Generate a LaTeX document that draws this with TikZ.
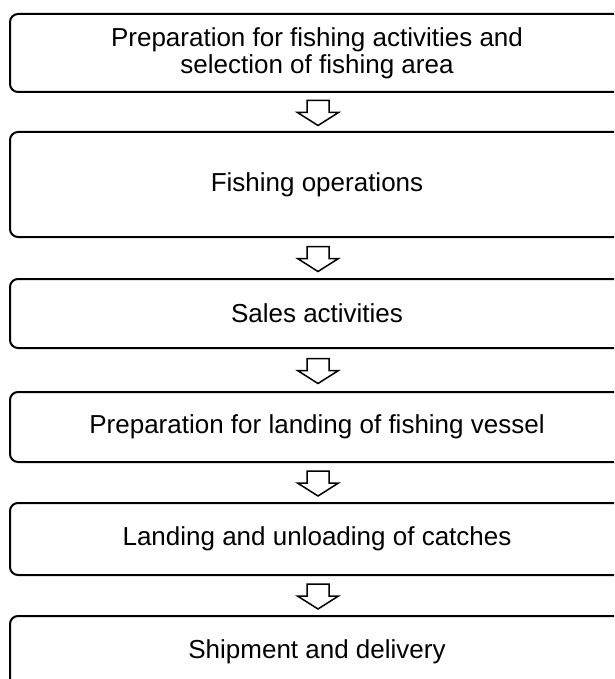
\documentclass[tikz,border=0pt]{standalone}
\usepackage{fontspec}
\setmainfont{Liberation Sans}
\usetikzlibrary{calc}
\begin{document}
\begin{tikzpicture}[x=1pt,y=-1pt,
  stepbox/.style={draw, line width=2pt, rounded corners=8pt, minimum width=614pt, inner sep=0pt, align=center, font=\fontsize{26}{27}\selectfont},
  blockarrow/.pic={\draw[line width=1.5pt, line join=miter] (-11,-12.5) -- (11,-12.5) -- (11,-0.5) -- (20.5,-0.5) -- (0,12.5) -- (-20.5,-0.5) -- (-11,-0.5) -- cycle;}
]
\useasboundingbox (0,0) rectangle (614,679);
\clip (0,0) rectangle (614,679);
\node[stepbox, minimum height=78pt] (b1) at (317,53) {Preparation for fishing activities and\\selection of fishing area};
\node[stepbox, minimum height=105pt] (b2) at (317,184.5) {Fishing operations};
\node[stepbox, minimum height=69pt] (b3) at (317,313.5) {Sales activities};
\node[stepbox, minimum height=70pt] (b4) at (317,427) {Preparation for landing of fishing vessel};
\node[stepbox, minimum height=72pt] (b5) at (317,539) {Landing and unloading of catches};
\node[stepbox, minimum height=72pt] (b6) at (317,652) {Shipment and delivery};
\pic at ($(b1.south)!0.5!(b2.north)+(1,1)$) {blockarrow};
\pic at ($(b2.south)!0.5!(b3.north)+(1,1)$) {blockarrow};
\pic at ($(b3.south)!0.5!(b4.north)+(1,1)$) {blockarrow};
\pic at ($(b4.south)!0.5!(b5.north)+(1,1)$) {blockarrow};
\pic at ($(b5.south)!0.5!(b6.north)+(1,1)$) {blockarrow};
\end{tikzpicture}
\end{document}
